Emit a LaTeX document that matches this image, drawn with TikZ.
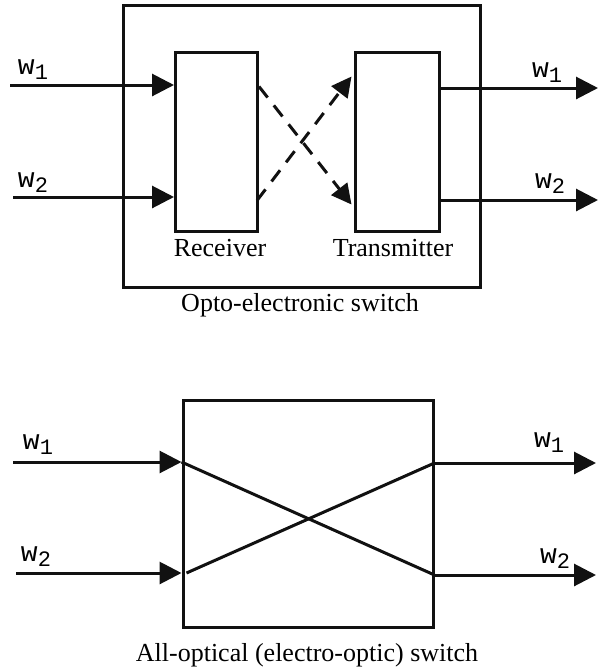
\documentclass[tikz,border=0pt]{standalone}
\usepackage{fontspec}
\setmainfont{Liberation Serif}
\setmonofont{Liberation Mono}
\usepackage{tikz}
\usetikzlibrary{arrows.meta, positioning, calc}
\definecolor{ink}{HTML}{111111}
\tikzset{
  frame/.style  ={draw=ink, line width=1.5pt, minimum width=#1},
  unitbox/.style={draw=ink, line width=1.5pt, minimum width=41pt, minimum height=89.5pt},
  sig/.style    ={-{Triangle[length=11pt,width=11pt]}, line width=1.5pt, draw=ink},
  link/.style   ={-{Triangle[length=10pt,width=10pt]}, line width=1.5pt, draw=ink, dash pattern=on 7pt off 5pt},
  wire/.style   ={line width=1.5pt, draw=ink},
  wlab/.style   ={font=\fontsize{14}{16}\selectfont\ttfamily, inner sep=0pt},
  caption/.style={font=\fontsize{13}{15}\selectfont, inner sep=0pt, anchor=base}
}
\newcommand{\wl}[1]{w\raisebox{-0.35ex}{\fontsize{11}{12}\selectfont #1}}

\begin{document}
\begin{tikzpicture}[x=0.5pt, y=-0.5pt]
  \useasboundingbox (0,0) rectangle (600,670);

  % opto-electronic switch
  \node[frame=178.5pt, minimum height=141pt] (oes) at (301.5,146) {};
  \node[unitbox] (rx) at (216.5,141.5) {};
  \node[unitbox, minimum width=42pt] (tx) at (397,141.5) {};
  \node[caption] (rxl) at (220,256) {Receiver};
  \node[caption] (txl) at (393,256) {Transmitter};
  \node[caption] (oesl) at (300,311) {Opto-electronic switch};

  \coordinate (a1) at (10,85);
  \coordinate (a2) at (13,197);
  \coordinate (b1) at (598,88);
  \coordinate (b2) at (598,200);
  \node[wlab] (a1l) at (33,70)  {\wl{1}};
  \node[wlab] (a2l) at (33,183) {\wl{2}};
  \node[wlab] (b1l) at (547,73) {\wl{1}};
  \node[wlab] (b2l) at (550,184) {\wl{2}};

  \draw[sig] (a1) -- (a1 -| rx.west);
  \draw[sig] (a2) -- (a2 -| rx.west);
  \draw[sig] (b1 -| tx.east) -- (b1);
  \draw[sig] (b2 -| tx.east) -- (b2);

  \draw[link] ($(rx.east)+(0,-55)$) -- ($(tx.west)+(-2,63)$);
  \draw[link] ($(rx.east)+(-2,59)$) -- ($(tx.west)+(-2,-65)$);

  % all-optical switch
  \node[frame=125pt, minimum height=113.5pt] (aos) at (308,513.5) {};
  \node[caption] (aosl) at (307,661) {All-optical (electro-optic) switch};

  \coordinate (c1) at (13,462);
  \coordinate (c2) at (16,573);
  \coordinate (d1) at (596,463);
  \coordinate (d2) at (596,575);
  \node[wlab] (c1l) at (38,445) {\wl{1}};
  \node[wlab] (c2l) at (36,557) {\wl{2}};
  \node[wlab] (d1l) at (549,443) {\wl{1}};
  \node[wlab] (d2l) at (555,559) {\wl{2}};

  \draw[sig] (c1) -- (c1 -| aos.west);
  \draw[sig] (c2) -- (c2 -| aos.west);
  \draw[sig] (d1 -| aos.east) -- (d1);
  \draw[sig] (d2 -| aos.east) -- (d2);

  \draw[wire] (c1 -| aos.west) -- (d2 -| aos.east);
  \draw[wire] ($(c2 -| aos.west)+(5,0)$) -- (d1 -| aos.east);
\end{tikzpicture}
\end{document}
